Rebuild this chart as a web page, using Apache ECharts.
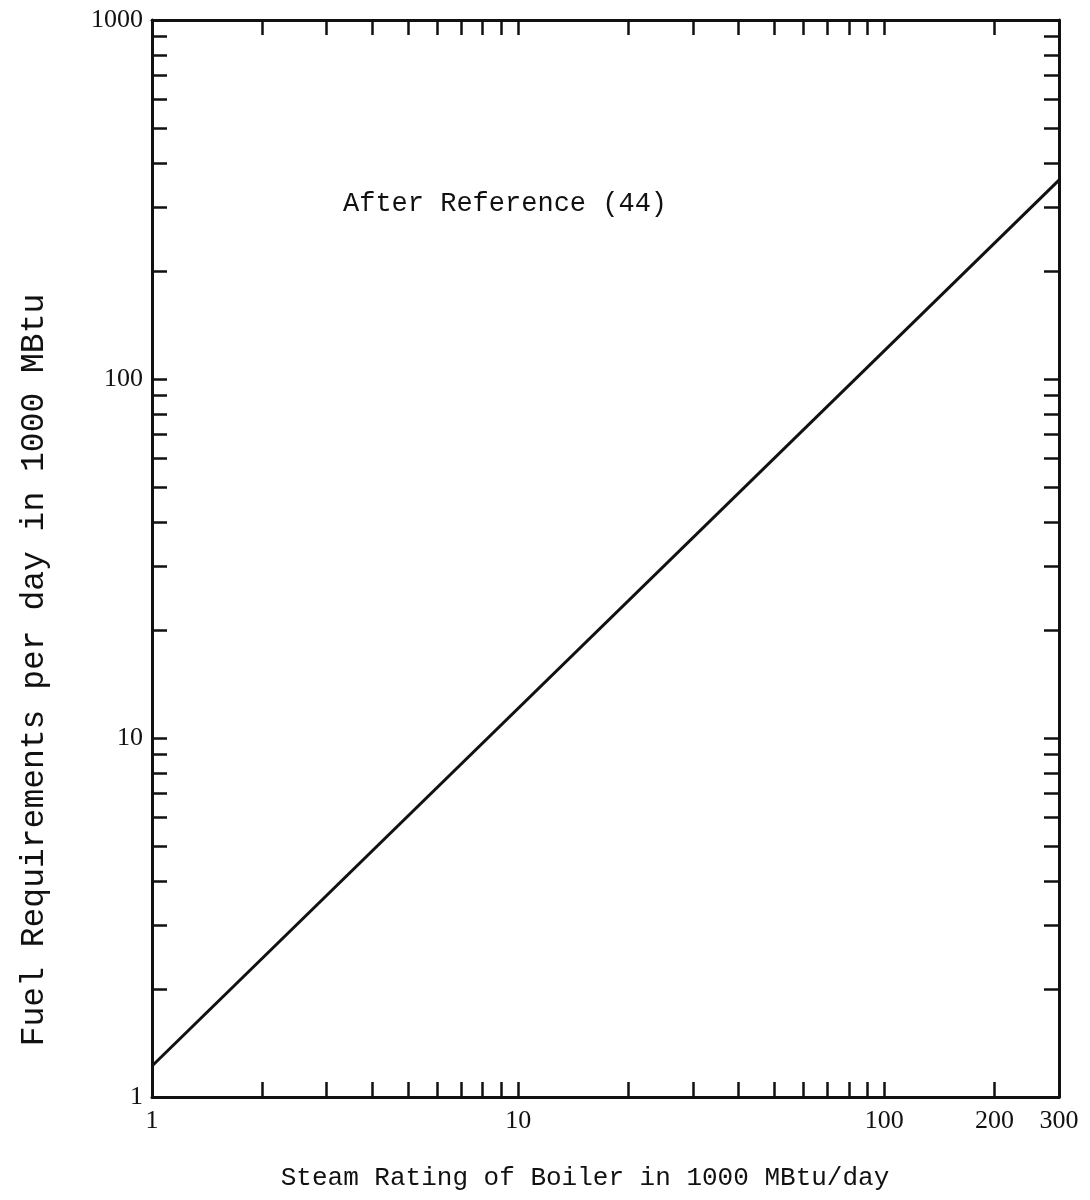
<!DOCTYPE html>
<html>
<head>
<meta charset="utf-8">
<script src="https://cdn.jsdelivr.net/npm/echarts@6/dist/echarts.min.js"></script>
<style>
  html, body { margin: 0; padding: 0; background: #fff; }
  #chart { width: 1090px; height: 1200px; }
</style>
</head>
<body>
<div id="chart"></div>
<script>
// Boiler steam rating (1000 MBtu/day) vs daily fuel requirement (1000 MBtu)
const steamRating = [1, 300];
const fuelRequirement = [1.22, 358];

// Tick positions on the log-log grid
const xTickValues = [1, 2, 3, 4, 5, 6, 7, 8, 9, 10, 20, 30, 40, 50, 60, 70, 80, 90, 100, 200, 300];
const xLabelValues = [1, 10, 100, 200, 300];
const yTickValues = [1, 2, 3, 4, 5, 6, 7, 8, 9, 10, 20, 30, 40, 50, 60, 70, 80, 90,
                     100, 200, 300, 400, 500, 600, 700, 800, 900, 1000];
const yLabelValues = [1, 10, 100, 1000];

const noteText = 'After Reference (44)';
const xTitle = 'Steam Rating of Boiler in 1000 MBtu/day';
const yTitle = 'Fuel Requirements per day in 1000 MBtu';

const ink = '#111';
const monoFont = '"Liberation Mono", "DejaVu Sans Mono", monospace';
const serifFont = '"Liberation Serif", "DejaVu Serif", serif';

function xAxisDef(position, withLabels) {
  return {
    type: 'log', logBase: 10, min: 1, max: 300, position: position,
    axisLine: { show: true, onZero: false, lineStyle: { color: ink, width: 3 } },
    axisTick: { show: true, inside: true, length: 15, customValues: xTickValues,
                lineStyle: { color: ink, width: 2.5 } },
    axisLabel: { show: withLabels, customValues: xLabelValues, margin: 11,
                 color: ink, fontFamily: serifFont, fontSize: 26,
                 formatter: v => String(v) },
    splitLine: { show: false }, minorTick: { show: false }
  };
}
function yAxisDef(position, withLabels) {
  return {
    type: 'log', logBase: 10, min: 1, max: 1000, position: position,
    axisLine: { show: true, onZero: false, lineStyle: { color: ink, width: 3 } },
    axisTick: { show: true, inside: true, length: 15, customValues: yTickValues,
                lineStyle: { color: ink, width: 2.5 } },
    axisLabel: { show: withLabels, customValues: yLabelValues, margin: 9,
                 color: ink, fontFamily: serifFont, fontSize: 26,
                 formatter: v => String(v) },
    splitLine: { show: false }, minorTick: { show: false }
  };
}

const chart = echarts.init(document.getElementById('chart'), null, { renderer: 'canvas' });
chart.setOption({
  backgroundColor: '#fff',
  animation: false,
  grid: { left: 152, right: 31, top: 20, bottom: 103, containLabel: false },
  xAxis: [xAxisDef('bottom', true), xAxisDef('top', false)],
  yAxis: [yAxisDef('left', true), yAxisDef('right', false)],
  series: [{
    type: 'line',
    xAxisIndex: 0, yAxisIndex: 0,
    data: steamRating.map((x, i) => [x, fuelRequirement[i]]),
    showSymbol: false,
    lineStyle: { color: ink, width: 3 }
  }],
  graphic: [
    { type: 'text', left: 343, top: 190,
      style: { text: noteText, font: '27px ' + monoFont, fill: ink } },
    { type: 'text', x: 585, y: 1178,
      style: { text: xTitle, font: '26px ' + monoFont, fill: ink,
               textAlign: 'center', textVerticalAlign: 'middle' } },
    { type: 'text', x: 34, y: 670, rotation: Math.PI / 2,
      style: { text: yTitle, font: '33px ' + monoFont, fill: ink,
               textAlign: 'center', textVerticalAlign: 'middle' } }
  ]
});
</script>
</body>
</html>
